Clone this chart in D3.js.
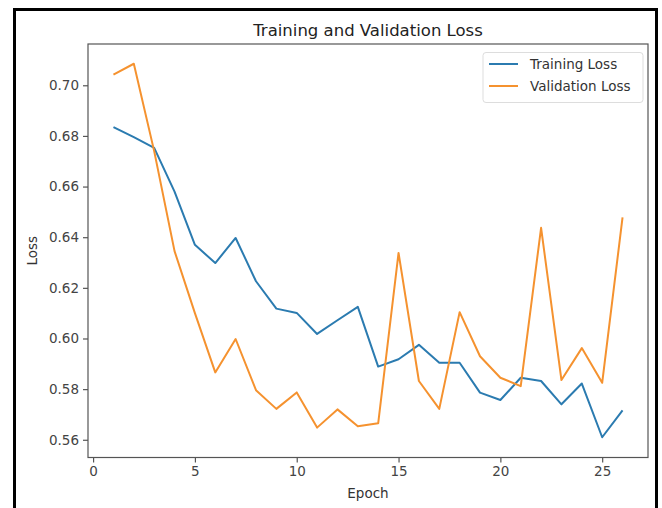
<!DOCTYPE html>
<html>
<head>
<meta charset="utf-8">
<script src="https://cdn.jsdelivr.net/npm/d3@7"></script>
<style>
  html, body { margin: 0; padding: 0; background: #fff; }
  svg { display: block; font-family: "DejaVu Sans", sans-serif; }
</style>
</head>
<body>
<svg id="chart" width="662" height="508"></svg>
<script>
const epochs = [1,2,3,4,5,6,7,8,9,10,11,12,13,14,15,16,17,18,19,20,21,22,23,24,25,26];
const trainingLoss = [0.6835,0.6795,0.6753,0.658,0.637,0.6298,0.6397,0.6226,0.6118,0.6101,0.6018,0.6072,0.6125,0.5889,0.5918,0.5975,0.5904,0.5904,0.5786,0.5757,0.5845,0.5832,0.5740,0.5822,0.5610,0.5716];
const validationLoss = [0.7042,0.7085,0.6740,0.6345,0.6100,0.5866,0.5998,0.5796,0.5722,0.5787,0.5648,0.5720,0.5653,0.5665,0.6338,0.5832,0.5722,0.6104,0.5930,0.5845,0.5812,0.6437,0.5836,0.5962,0.5825,0.6478];
const seriesNames = ["Training Loss", "Validation Loss"];
const xTicks = [0,5,10,15,20,25];
const yTicks = [0.56,0.58,0.60,0.62,0.64,0.66,0.68,0.70];
const colors = ["#2b7bb0", "#f5922f"];

const svg = d3.select("#chart");
const mLeft = 88, mRight = 648, mTop = 44, mBottom = 457.5;

// outer black frame
svg.append("rect").attr("x", 14.5).attr("y", 9.5).attr("width", 642).attr("height", 520)
  .attr("fill", "#fff").attr("stroke", "#000").attr("stroke-width", 3);

const x = d3.scaleLinear().domain([-0.25, 27.25]).range([mLeft, mRight]);
const y = d3.scaleLinear().domain([0.5530, 0.7163]).range([mBottom, mTop]);

// axes
const xAxis = d3.axisBottom(x).tickValues(xTicks).tickFormat(d3.format("d")).tickSize(5).tickPadding(4);
const yAxis = d3.axisLeft(y).tickValues(yTicks).tickFormat(d3.format(".2f")).tickSize(5).tickPadding(4);

const gx = svg.append("g").attr("transform", `translate(0,${mBottom})`).call(xAxis);
const gy = svg.append("g").attr("transform", `translate(${mLeft},0)`).call(yAxis);
[gx, gy].forEach(g => {
  g.select(".domain").remove();
  g.selectAll("line").attr("stroke", "#555").attr("stroke-width", 1.2);
  g.selectAll("text").attr("fill", "#444").attr("font-size", "13.5px")
    .attr("font-family", "DejaVu Sans, sans-serif");
});

// lines
const line = d3.line().x((d, i) => x(epochs[i])).y(d => y(d));
[trainingLoss, validationLoss].forEach((s, k) => {
  svg.append("path").datum(s).attr("d", line)
    .attr("fill", "none").attr("stroke", colors[k]).attr("stroke-width", 2)
    .attr("stroke-linejoin", "round");
});

// spines
svg.append("rect").attr("x", mLeft).attr("y", mTop).attr("width", mRight - mLeft).attr("height", mBottom - mTop)
  .attr("fill", "none").attr("stroke", "#555").attr("stroke-width", 1.2);

// title and labels
svg.append("text").attr("x", (mLeft + mRight) / 2).attr("y", 36).attr("text-anchor", "middle")
  .attr("font-size", "16.5px").attr("fill", "#222").text("Training and Validation Loss");
svg.append("text").attr("x", (mLeft + mRight) / 2).attr("y", 498).attr("text-anchor", "middle")
  .attr("font-size", "13.5px").attr("fill", "#333").text("Epoch");
svg.append("text").attr("transform", `translate(37,${(mTop + mBottom) / 2}) rotate(-90)`)
  .attr("text-anchor", "middle").attr("font-size", "13.5px").attr("fill", "#333").text("Loss");

// legend
const lg = svg.append("g");
lg.append("rect").attr("x", 483).attr("y", 52.5).attr("width", 160).attr("height", 50).attr("rx", 3)
  .attr("fill", "#fff").attr("fill-opacity", 0.8).attr("stroke", "#ddd").attr("stroke-width", 1);
seriesNames.forEach((name, k) => {
  const cy = 64 + k * 22;
  lg.append("line").attr("x1", 489).attr("x2", 518).attr("y1", cy).attr("y2", cy)
    .attr("stroke", colors[k]).attr("stroke-width", 2);
  lg.append("text").attr("x", 530).attr("y", cy + 5).attr("font-size", "13.5px").attr("fill", "#333").text(name);
});
</script>
</body>
</html>
